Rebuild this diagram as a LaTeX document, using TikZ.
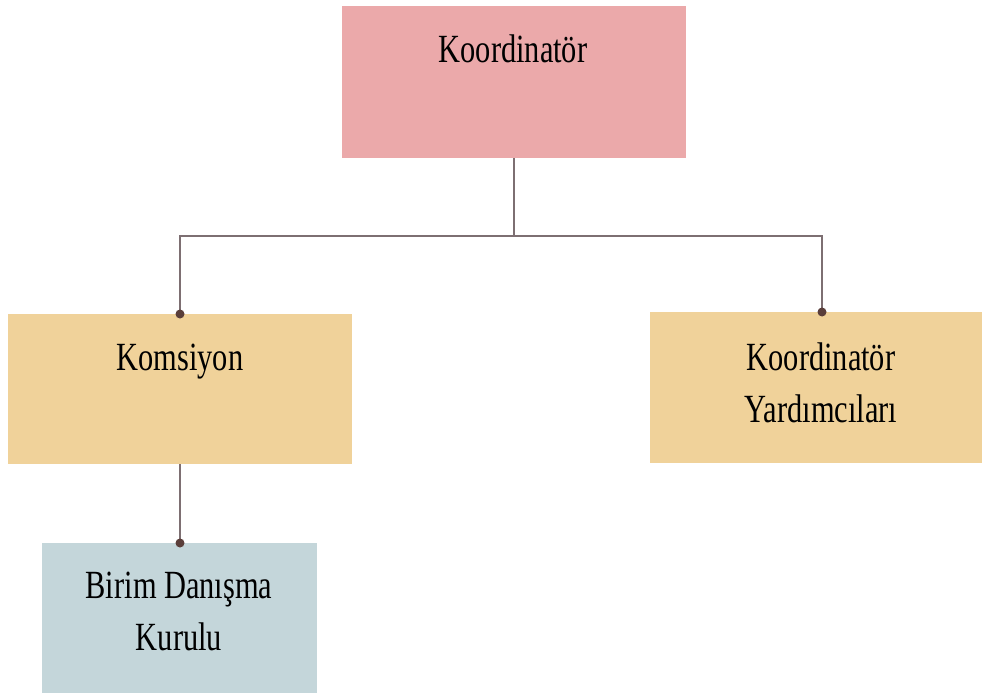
\documentclass[tikz,border=0pt]{standalone}
\usepackage{fontspec}
\setmainfont{Liberation Serif}
\definecolor{pinkbox}{HTML}{EBA9AA}
\definecolor{orangebox}{HTML}{F0D29A}
\definecolor{bluebox}{HTML}{C4D6DA}
\definecolor{linec}{HTML}{7D6F72}
\definecolor{dotc}{HTML}{5A3E3A}
\begin{document}
\begin{tikzpicture}[x=1pt,y=-1pt,
  box/.style={draw=none,inner sep=0pt,outer sep=0pt,minimum width=#1},
  lbl/.style={anchor=base,align=center,inner sep=0pt,xscale=0.76,
    font=\fontsize{40}{52}\selectfont,text=black},
  conn/.style={draw=linec,line width=2.2pt},
  enddot/.style={circle,fill=dotc,inner sep=0pt,minimum size=9pt}]
\useasboundingbox (0,0) rectangle (982,693);
\fill[pinkbox] (342,6) rectangle (686,158);
\node[box=344pt,minimum height=152pt] (k) at (514,82) {};
\fill[orangebox] (8,314) rectangle (352,464);
\node[box=344pt,minimum height=150pt] (km) at (180,389) {};
\fill[orangebox] (650,312) rectangle (982,463);
\node[box=332pt,minimum height=151pt] (ky) at (816,387.5) {};
\fill[bluebox] (42,543) rectangle (317,693);
\node[box=275pt,minimum height=150pt] (b) at (179.5,618) {};
\node[lbl] (tk) at (513,63) {Koordinatör};
\node[lbl] (tkm) at (180,370) {Komsiyon};
\node[lbl] (tky) at (821,422) {Koordinatör\\Yardımcıları};
\node[lbl] (tb) at (179,650) {Birim Danışma\\Kurulu};
\coordinate (j) at (514,236);
\coordinate (jl) at (180,236);
\coordinate (jr) at (822,236);
\coordinate (kmt) at (180,314);
\coordinate (kyt) at (822,312);
\coordinate (kmb) at (180,464);
\coordinate (bt) at (180,543);
\draw[conn] (k.south) -- (j);
\draw[conn] (kmt) -- (jl) -- (jr) -- (kyt);
\draw[conn] (kmb) -- (bt);
\node[enddot] (d1) at (kmt) {};
\node[enddot] (d2) at (kyt) {};
\node[enddot] (d3) at (bt) {};
\end{tikzpicture}
\end{document}
